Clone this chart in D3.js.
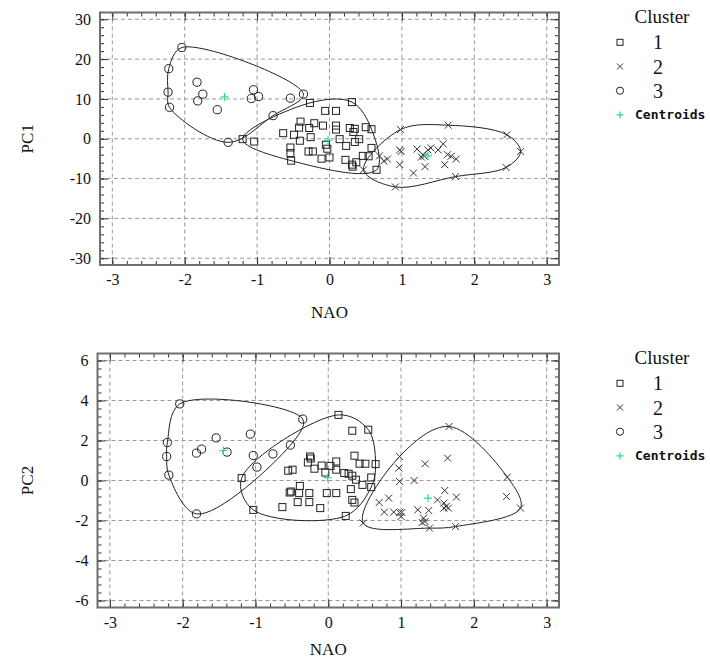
<!DOCTYPE html>
<html>
<head>
<meta charset="utf-8">
<script src="https://cdnjs.cloudflare.com/ajax/libs/d3/7.8.5/d3.min.js"></script>
<style>
body { margin: 0; background: #fff; }
text { font-family: "Liberation Serif", "Times New Roman", serif; fill: #111; }
</style>
</head>
<body>
<svg width="710" height="660"></svg>
<script>
// tick labels
var naoTicks = [-3, -2, -1, 0, 1, 2, 3];
var pc1Ticks = [-30, -20, -10, 0, 10, 20, 30];
var pc2Ticks = [-6, -4, -2, 0, 2, 4, 6];
var clusterNames = ["1", "2", "3"];

// top panel: [NAO, PC1]
var pc1Cluster1 = [[-0.27,9.0],[0.31,9.2],[-0.06,7.0],[0.09,7.0],[-0.40,4.3],[-0.42,2.8],[-0.21,3.9],[-0.09,3.3],
  [-0.28,2.7],[0.09,3.3],[0.09,2.3],[-0.64,1.4],[-0.49,1.0],[-0.41,-0.5],[-0.26,0.4],[0.28,2.7],[0.35,2.5],
  [0.33,1.7],[0.50,2.9],[0.58,2.4],[0.14,-0.1],[0.41,-0.1],[0.35,-0.8],[-0.05,-1.5],[-0.03,-2.5],[0.23,-1.8],
  [-0.54,-2.2],[-0.54,-3.6],[-0.29,-3.2],[-0.23,-3.2],[-0.11,-5.0],[0.0,-4.7],[-0.53,-5.5],[0.22,-5.3],
  [0.31,-6.5],[0.37,-5.9],[0.46,-4.3],[0.54,-4.4],[0.58,-2.3],[0.65,-7.8],[-1.20,-0.1],[-1.04,-0.7],[0.32,-7.0]];
var pc1Cluster2 = [[0.98,2.3],[1.64,3.4],[2.45,1.0],[2.64,-3.2],[2.44,-7.2],[1.74,-9.5],[0.91,-12.1],[0.47,-7.8],
  [0.69,-4.3],[0.80,-5.1],[0.75,-5.6],[0.97,-2.8],[0.99,-3.2],[0.97,-6.5],[1.16,-8.6],[1.21,-2.6],[1.31,-4.4],
  [1.32,-7.0],[1.36,-2.8],[1.40,-2.3],[1.50,-2.8],[1.57,-1.3],[1.63,-4.0],[1.68,-4.4],[1.75,-5.1],[1.59,-6.5],
  [1.29,-4.0],[1.27,-4.6]];
var pc1Cluster3 = [[-2.04,22.9],[-2.22,17.6],[-2.23,11.7],[-2.21,7.9],[-1.83,14.2],[-1.75,11.2],[-1.82,9.5],
  [-1.55,7.3],[-1.40,-0.9],[-1.05,12.3],[-1.08,10.1],[-0.98,10.6],[-0.54,10.2],[-0.36,11.2],[-0.78,5.8]];
var pc1Centroids = [[-0.02,-0.4],[1.36,-4.3],[-1.45,10.5]];

// bottom panel: [NAO, PC2]
var pc2Cluster1 = [[0.14,3.28],[0.33,2.49],[0.55,2.54],[-1.19,0.12],[-1.03,-1.47],[0.24,-1.77],[0.36,1.24],
  [0.43,0.84],[0.51,0.84],[0.65,0.82],[-0.25,1.2],[-0.24,1.1],[-0.28,0.9],[-0.55,0.49],[-0.49,0.54],[-0.19,0.59],
  [-0.09,0.75],[0.03,0.73],[0.11,0.95],[0.11,0.54],[-0.04,0.40],[0.22,0.37],[0.28,0.34],[0.33,0.24],[0.38,0.04],
  [0.59,0.15],[0.47,-0.22],[0.59,-0.33],[0.31,-0.43],[-0.39,-0.27],[-0.53,-0.6],[-0.51,-0.55],[-0.40,-0.63],
  [-0.26,-0.63],[-0.02,-0.63],[0.11,-0.63],[0.33,-0.97],[0.36,-1.1],[-0.63,-1.33],[-0.42,-1.08],[-0.26,-1.08],
  [-0.11,-1.38]];
var pc2Cluster2 = [[1.66,2.7],[1.64,1.12],[1.33,0.84],[0.98,1.2],[0.97,0.62],[0.98,-0.05],[1.18,0.0],[2.46,0.17],
  [2.45,-0.8],[2.64,-1.38],[1.75,-2.3],[1.39,-2.38],[0.48,-2.13],[0.70,-1.1],[0.83,-0.88],[0.77,-1.58],
  [0.90,-1.58],[0.98,-1.6],[1.0,-1.8],[1.01,-1.6],[1.23,-1.47],[1.38,-1.5],[1.31,-1.88],[1.33,-2.05],
  [1.29,-2.1],[1.50,-0.97],[1.60,-0.5],[1.59,-1.13],[1.62,-1.3],[1.65,-1.38],[1.76,-0.83],[1.59,-1.38]];
var pc2Cluster3 = [[-2.04,3.83],[-2.21,1.9],[-2.22,1.2],[-2.19,0.27],[-1.81,-1.67],[-1.81,1.37],[-1.74,1.57],
  [-1.54,2.13],[-1.39,1.42],[-1.07,2.32],[-1.03,1.25],[-0.98,0.67],[-0.76,1.33],[-0.52,1.77],[-0.35,3.07]];
var pc2Centroids = [[-0.01,0.14],[1.37,-0.88],[-1.44,1.5]];

var svg = d3.select("svg");
var green = "#22e67c";
var serif = '"Liberation Serif", "Times New Roman", serif';

function marker(sel, kind, s) {
    if (kind === 0) {
        sel.append("rect").attr("x", -s).attr("y", -s).attr("width", 2 * s).attr("height", 2 * s)
            .attr("fill", "none").attr("stroke", "#222");
    } else if (kind === 1) {
        sel.append("path").attr("d", "M" + -s + "," + -s + "L" + s + "," + s + "M" + -s + "," + s + "L" + s + "," + -s)
            .attr("fill", "none").attr("stroke", "#333");
    } else if (kind === 2) {
        sel.append("circle").attr("r", s + 0.6).attr("fill", "none").attr("stroke", "#222");
    } else {
        sel.append("path").attr("d", "M" + -s + ",0H" + s + "M0," + -s + "V" + s)
            .attr("fill", "none").attr("stroke", green).attr("stroke-width", 1.2);
    }
}

function panel(o) {
    var w = o.right - o.left, h = o.bottom - o.top;
    var g = svg.append("g").attr("transform", "translate(" + o.left + "," + o.top + ")");
    var x = d3.scaleLinear().domain([-3.17, 3.17]).range([0, w]);
    var y = d3.scaleLinear().domain(o.yDomain).range([h, 0]);

    // dashed grid
    var grid = g.append("g");
    grid.selectAll(".gx").data(naoTicks).enter().append("line")
        .attr("x1", function(d) { return x(d); }).attr("x2", function(d) { return x(d); })
        .attr("y1", 0).attr("y2", h);
    grid.selectAll(".gy").data(o.yTicks).enter().append("line")
        .attr("y1", function(d) { return y(d); }).attr("y2", function(d) { return y(d); })
        .attr("x1", 0).attr("x2", w);
    grid.selectAll("line").attr("stroke", "#999").attr("stroke-dasharray", "4,3");

    // frame ticks, pointing inward
    var xMinor = d3.range(-15, 16).map(function(d) { return d / 5; });
    var yMinor = d3.range(-15, 16).map(function(d) { return d * o.yStep; })
        .filter(function(v) { return v >= o.yDomain[0] && v <= o.yDomain[1]; });
    var axes = [
        [d3.axisBottom, x, "translate(0," + h + ")", naoTicks, xMinor, true],
        [d3.axisTop, x, null, naoTicks, xMinor, false],
        [d3.axisLeft, y, null, o.yTicks, yMinor, true],
        [d3.axisRight, y, "translate(" + w + ",0)", o.yTicks, yMinor, false]
    ];
    axes.forEach(function(a) {
        var gm = g.append("g").attr("transform", a[2])
            .call(a[0](a[1]).tickValues(a[4]).tickSize(-4).tickFormat(""));
        gm.select(".domain").remove();
        var ga = g.append("g").attr("transform", a[2])
            .call(a[0](a[1]).tickValues(a[3]).tickSize(-8).tickPadding(9)
                .tickFormat(a[5] ? function(d) { return String(d); } : ""));
        ga.select(".domain").remove();
        ga.selectAll("text").style("font-size", "16px").style("font-family", serif).attr("fill", "#111");
    });
    g.selectAll(".tick line").attr("stroke", "#333");

    g.append("rect").attr("width", w).attr("height", h)
        .attr("fill", "none").attr("stroke", "#6e6e6e").attr("stroke-width", 2);

    // smoothed hulls
    var curve = d3.line().curve(d3.curveCatmullRomClosed.alpha(0.5));
    o.clusters.forEach(function(pts) {
        var hull = d3.polygonHull(pts.map(function(d) { return [x(d[0]), y(d[1])]; }));
        g.append("path").attr("d", curve(hull))
            .attr("fill", "none").attr("stroke", "#222").attr("stroke-width", 1);
    });

    // points
    o.clusters.forEach(function(pts, k) {
        pts.forEach(function(d) {
            var m = g.append("g").attr("transform", "translate(" + x(d[0]) + "," + y(d[1]) + ")");
            marker(m, k, 3.5);
        });
    });
    o.centroids.forEach(function(d) {
        var m = g.append("g").attr("transform", "translate(" + x(d[0]) + "," + y(d[1]) + ")");
        marker(m, 3, 4);
    });

    // axis titles
    g.append("text").attr("transform", "translate(" + (27 - o.left) + "," + (h / 2) + ") rotate(-90)")
        .attr("text-anchor", "middle").attr("dy", "0.35em").style("font-size", "17px").text(o.yLabel);
    g.append("text").attr("x", x(0)).attr("y", h + o.titleGap)
        .attr("text-anchor", "middle").style("font-size", "17px").text("NAO");

    // legend
    var lg = svg.append("g").attr("transform", "translate(0," + o.top + ")");
    lg.append("text").attr("x", 662).attr("y", 10.5).attr("text-anchor", "middle")
        .style("font-size", "19px").text("Cluster");
    clusterNames.forEach(function(name, k) {
        var cy = 29.8 + k * 24.2;
        var m = lg.append("g").attr("transform", "translate(620," + cy + ")");
        marker(m, k, 3);
        lg.append("text").attr("x", 658).attr("y", cy + 7).attr("text-anchor", "middle")
            .style("font-size", "20px").text(name);
    });
    var cm = lg.append("g").attr("transform", "translate(620," + (29.8 + 3 * 24.2) + ")");
    marker(cm, 3, 3.5);
    lg.append("text").attr("x", 635).attr("y", 29.8 + 3 * 24.2 + 4.5)
        .style("font-family", '"DejaVu Sans Mono", monospace').style("font-size", "13px")
        .style("font-weight", "bold").text("Centroids");
}

panel({
    left: 100, right: 559, top: 12.5, bottom: 265, titleGap: 53,
    yDomain: [-31.7, 31.7], yTicks: pc1Ticks, yStep: 2, yLabel: "PC1",
    clusters: [pc1Cluster1, pc1Cluster2, pc1Cluster3], centroids: pc1Centroids
});
panel({
    left: 97.5, right: 559, top: 353.5, bottom: 607.5, titleGap: 47,
    yDomain: [-6.35, 6.35], yTicks: pc2Ticks, yStep: 0.4, yLabel: "PC2",
    clusters: [pc2Cluster1, pc2Cluster2, pc2Cluster3], centroids: pc2Centroids
});
</script>
</body>
</html>
